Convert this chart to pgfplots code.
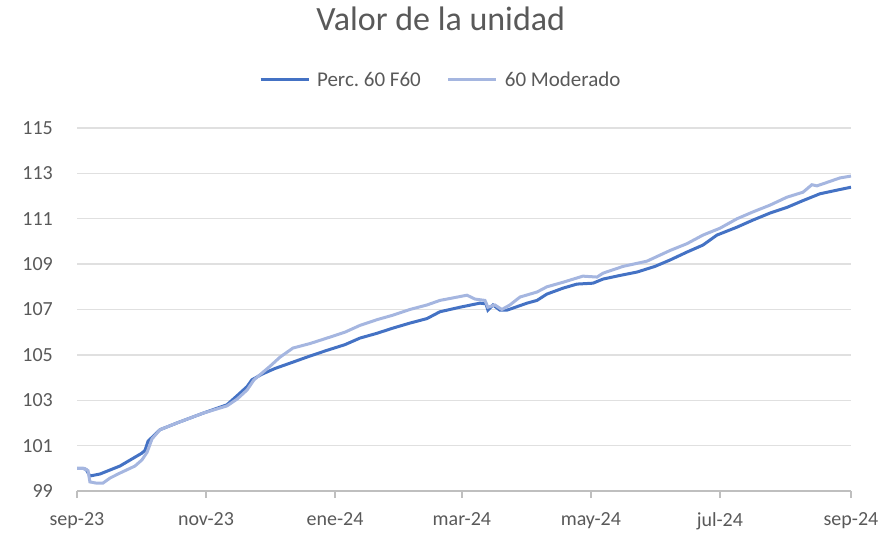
\documentclass[border=0pt]{standalone}
\usepackage{fontspec}
\setmainfont{Carlito}
\usepackage{pgfplots}
\pgfplotsset{compat=1.18}
\definecolor{darkb}{HTML}{4472C4}
\definecolor{lightb}{HTML}{A5B6E0}
\definecolor{txt}{HTML}{595959}
\definecolor{gridc}{HTML}{E0E0E0}
\definecolor{axl}{HTML}{BFBFBF}
\frenchspacing
\begin{document}
\begin{tikzpicture}
\path[use as bounding box] (0,0) rectangle (882bp,534bp);
\begin{axis}[
  at={(77bp,43bp)}, anchor=south west,
  scale only axis, width=774bp, height=363bp,
  xmin=0, xmax=366, ymin=99, ymax=115,
  xtick={0,61,122,182,243,304,366},
  xticklabels={sep-23,nov-23,ene-24,mar-24,may-24,jul-24,sep-24},
  ytick={99,101,...,115},
  ymajorgrids, grid style={gridc, line width=1.3bp},
  axis x line*=bottom, axis y line*=left,
  y axis line style={draw=none},
  x axis line style={axl, line width=1.3bp, -},
  tick align=outside, major tick length=7bp,
  xtick style={axl, line width=1.3bp},
  ytick style={draw=none},
  /pgf/number format/assume math mode=true,
  ticklabel style={font=\fontsize{20bp}{24bp}\selectfont, text=txt, inner sep=0pt},
  yticklabel shift=17bp,
  xticklabel shift=14bp,
  title={Valor de la unidad},
  title style={at={(0.470,1.284)}, anchor=center, font=\fontsize{34bp}{40bp}\selectfont, text=txt},
  legend style={at={(0.470,1.133)}, anchor=center, draw=none, fill=none,
    legend columns=2, font=\fontsize{21bp}{25bp}\selectfont, text=txt,
    /tikz/every odd column/.append style={column sep=5bp},
    /tikz/every even column/.append style={column sep=24bp}},
  legend image code/.code={\draw[#1] (0bp,0bp) -- (48bp,0bp);},
]
\addplot[darkb, line width=3bp] coordinates {
(0,100.0) (2.8,100.0) (4.3,99.95) (6.1,99.66) (10.9,99.75) (20.3,100.1) (30.7,100.67) (32.2,100.8) (33.6,101.2) (35.9,101.4) (39.2,101.7) (47.3,102.0) (59.6,102.43) (70.9,102.8) (75.7,103.2) (80.4,103.6) (82.7,103.9) (87.5,104.15) (93.6,104.4) (102.1,104.68) (110.2,104.95) (118.2,105.2) (126.7,105.45) (133.8,105.74) (141.8,105.95) (149.4,106.18) (157.4,106.4) (165.5,106.6) (171.6,106.9) (181.1,107.1) (190.5,107.28) (193.4,107.25) (194.3,106.97) (196.7,107.2) (200.0,106.97) (203.3,106.97) (206.1,107.06) (212.8,107.28) (217.5,107.4) (222.2,107.68) (229.8,107.94) (236.4,108.12) (244.0,108.16) (248.7,108.34) (256.7,108.5) (264.8,108.65) (273.3,108.9) (280.4,109.18) (288.4,109.53) (296.0,109.84) (302.6,110.28) (312.1,110.63) (319.6,110.94) (327.7,111.25) (335.7,111.5) (343.3,111.8) (351.3,112.1) (359.3,112.26) (366,112.39)
};
\addlegendentry{Perc. 60 F60}
\addplot[lightb, line width=3bp] coordinates {
(0,100.0) (3.3,100.0) (5.2,99.9) (6.1,99.4) (9.0,99.35) (12.3,99.35) (15.6,99.57) (20.3,99.79) (27.4,100.1) (30.7,100.37) (33.1,100.7) (35.5,101.3) (39.2,101.7) (47.3,102.0) (59.6,102.43) (70.9,102.75) (75.7,103.05) (80.4,103.45) (83.7,103.9) (87.5,104.2) (91.3,104.5) (96.0,104.9) (102.1,105.3) (110.2,105.5) (118.2,105.74) (126.7,106.0) (133.8,106.3) (141.8,106.55) (149.4,106.75) (157.4,107.0) (165.5,107.2) (171.6,107.4) (184.4,107.63) (188.2,107.46) (192.9,107.4) (194.3,107.1) (197.6,107.2) (200.9,107.0) (204.7,107.2) (209.5,107.55) (217.5,107.77) (222.2,108.0) (229.8,108.2) (239.2,108.47) (245.9,108.43) (248.7,108.6) (258.2,108.9) (269.5,109.13) (280.4,109.6) (288.4,109.9) (296.0,110.28) (304.0,110.58) (312.1,111.0) (319.6,111.3) (327.7,111.6) (335.7,111.95) (343.3,112.17) (347.5,112.5) (349.9,112.45) (354.6,112.6) (360.8,112.8) (366,112.88)
};
\addlegendentry{60 Moderado}
\end{axis}
\end{tikzpicture}
\end{document}
